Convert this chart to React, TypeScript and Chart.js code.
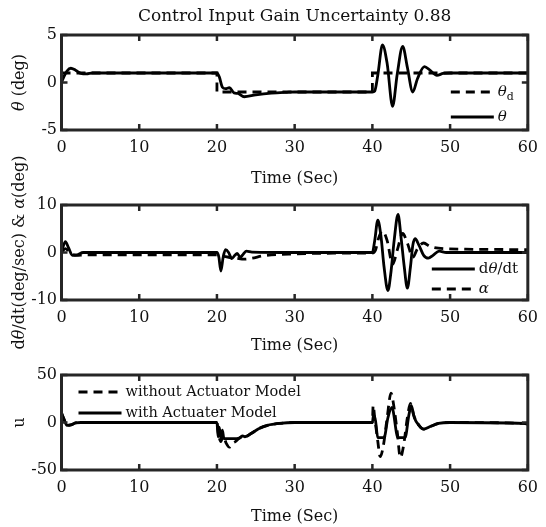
import React, { useEffect, useRef } from "react";
import { Chart, registerables } from "chart.js";

Chart.register(...registerables);

const SERIF = "'DejaVu Serif', 'Liberation Serif', serif";
const INK = "#000";
const TEXT = "#111";
const FRAME = "#262626";

// ---------- Panel 1: pitch angle ----------
const refTime = [0, 20, 20, 40, 40, 60];
const thetaRef = [1, 1, -1, -1, 1, 1];
const thetaTime = [0, 0.3, 0.7, 1.2, 1.8, 2.5, 3.2, 4, 20, 20.3, 20.7, 21.1, 21.6, 22.2, 22.7, 23.5, 25, 27, 29, 30, 35, 40, 40.3, 40.7, 41.3, 41.9, 42.6, 43.2, 43.9, 44.5, 45.2, 45.8, 46.7, 47.4, 48.3, 49.1, 50, 60];
const theta = [0, 0.6, 1.2, 1.5, 1.3, 0.95, 0.9, 1, 1, 0.6, -0.5, -0.65, -0.55, -1.1, -1.15, -1.5, -1.3, -1.12, -1.03, -1, -1, -1, -0.9, 0.8, 3.95, 2.0, -2.5, 0.9, 3.8, 1.6, -1.0, 0.4, 1.67, 1.3, 0.75, 0.95, 1, 1];

// ---------- Panel 2: pitch rate & angle of attack ----------
const rateTime = [0, 0.2, 0.5, 0.9, 1.4, 2.0, 2.8, 20, 20.25, 20.5, 20.8, 21.1, 21.5, 21.9, 22.3, 22.6, 23.0, 23.4, 23.8, 24.5, 30, 40, 40.3, 40.7, 41.1, 41.5, 42.0, 42.4, 42.8, 43.3, 43.7, 44.1, 44.5, 44.9, 45.2, 45.5, 46.0, 46.6, 47.2, 47.8, 48.6, 49.5, 60];
const rate = [0, 1.2, 2.3, 1.0, -0.6, -0.5, 0, 0, -1.0, -3.9, -1.0, 0.6, 0.0, -1.3, -0.6, -0.2, -1.0, -0.3, 0.3, 0.1, 0, 0, 2.5, 6.8, 3.5, -3.0, -8.0, -4.0, 2.5, 8.0, 3.0, -3.0, -7.5, -3.0, 1.5, 2.9, 1.5, -0.6, -1.2, -0.6, 0.3, 0, 0];
const alphaTime = [0, 0.5, 1.2, 2.0, 3, 20, 20.5, 21.5, 22.5, 23.5, 24.5, 26, 30, 35, 40, 40.4, 40.8, 41.3, 41.9, 42.6, 43.2, 43.9, 44.5, 45.2, 45.8, 46.6, 47.4, 48.5, 52, 60];
const alpha = [0, 0.8, -0.2, -0.6, -0.5, -0.5, -0.7, -1.0, -1.2, -1.4, -1.2, -0.7, -0.3, -0.15, -0.1, 0.5, 3.0, 4.5, 2.5, -2.5, 0.5, 4.0, 2.0, -1.0, 0.8, 2.0, 1.3, 0.9, 0.7, 0.6];

// ---------- Panel 3: control input ----------
const uTime = [0, 0.3, 0.7, 1.2, 1.8, 2.5, 20, 20.15, 20.3, 20.5, 20.7, 20.9, 21.5, 22.5, 23.0, 23.3, 23.6, 24.5, 25.5, 26.5, 28, 30, 40, 40.15, 40.4, 40.7, 41.5, 42.0, 42.5, 43.3, 44.2, 44.7, 45.0, 45.4, 46.0, 46.6, 47.5, 48.5, 50, 59.5, 60];
const uAct = [10, 4, -3, -2.5, -0.5, 0, 0, -15, -5, -17, -8, -17, -17, -17, -16, -14, -15, -11, -6, -3, -1, 0, 0, 8, 2, -16, -16, 5, 16, -16, -16, 8, 18, 5, -3, -7, -4, -1, 0, -1, -1.5];
const uNoActTime = [0, 0.3, 0.7, 1.2, 1.8, 2.5, 20, 20.2, 20.5, 20.8, 21.2, 21.6, 22.0, 22.4, 22.8, 23.2, 23.6, 24.5, 25.5, 26.5, 28, 30, 40, 40.1, 40.3, 40.7, 41.0, 41.4, 41.9, 42.4, 42.8, 43.2, 43.6, 44.0, 44.5, 44.9, 45.3, 46.0, 46.6, 47.5, 48.5, 50, 59.5, 60];
const uNoAct = [10, 4, -3, -2.5, -0.5, 0, 0, -12, -20, -14, -22, -26, -22, -20, -17, -15, -15, -11, -6, -3, -1, 0, 0, 18, 5, -20, -36, -25, 5, 31, 15, -10, -37, -25, 5, 20, 8, -3, -7, -4, -1, 0, -1, -1.5];

// axis ranges / ticks
const timeRange = [0, 60];
const timeStep = 10;
const xTitle = "Time (Sec)";
const chartTitle = "Control Input Gain Uncertainty 0.88";

type Seg = { s: string; it?: boolean; sub?: boolean };

const pts = (t: number[], v: number[]) => t.map((x, i) => ({ x, y: v[i] }));

function drawRich(ctx: CanvasRenderingContext2D, segs: Seg[], x: number, y: number, size: number, align: "left" | "center") {
  const fontFor = (g: Seg) => `${g.it ? "italic " : ""}${g.sub ? Math.round(size * 0.72) : size}px ${SERIF}`;
  const widths = segs.map((g) => {
    ctx.font = fontFor(g);
    return ctx.measureText(g.s).width;
  });
  const total = widths.reduce((a, b) => a + b, 0);
  let cx = align === "center" ? x - total / 2 : x;
  ctx.textBaseline = "middle";
  ctx.textAlign = "left";
  segs.forEach((g, i) => {
    ctx.font = fontFor(g);
    ctx.fillText(g.s, cx, y + (g.sub ? size * 0.32 : 0));
    cx += widths[i];
  });
}

interface LegendItem { segs: Seg[]; dash: boolean }
interface PanelCfg {
  top: number;
  height: number;
  padTop: number;
  padBottom: number;
  axisH: number;
  yMin: number;
  yMax: number;
  yStep: number;
  yTitle: Seg[];
  title?: string;
  series: { t: number[]; v: number[]; dash: boolean }[];
  legend: { items: LegendItem[]; anchor: "br" | "tl"; dx: number; rows: number[]; size: number };
}

const DASH = [9, 6];

const panels: PanelCfg[] = [
  {
    top: 0, height: 190, padTop: 0, padBottom: 2, axisH: 58,
    yMin: -5, yMax: 5, yStep: 5,
    yTitle: [{ s: "θ", it: true }, { s: " (deg)" }],
    title: chartTitle,
    series: [
      { t: thetaTime, v: theta, dash: false },
      { t: refTime, v: thetaRef, dash: true },
    ],
    legend: {
      anchor: "br", dx: 77, rows: [38, 13], size: 15,
      items: [
        { segs: [{ s: "θ", it: true }, { s: "d", sub: true }], dash: true },
        { segs: [{ s: "θ", it: true }], dash: false },
      ],
    },
  },
  {
    top: 130, height: 250, padTop: 75, padBottom: 25, axisH: 55,
    yMin: -10, yMax: 10, yStep: 10,
    yTitle: [{ s: "d" }, { s: "θ", it: true }, { s: "/dt(deg/sec) & " }, { s: "α", it: true }, { s: "(deg)" }],
    series: [
      { t: rateTime, v: rate, dash: false },
      { t: alphaTime, v: alpha, dash: true },
    ],
    legend: {
      anchor: "br", dx: 96, rows: [31, 11], size: 15,
      items: [
        { segs: [{ s: "d" }, { s: "θ", it: true }, { s: "/dt" }], dash: false },
        { segs: [{ s: "α", it: true }], dash: true },
      ],
    },
  },
  {
    top: 340, height: 187, padTop: 35, padBottom: 1, axisH: 56,
    yMin: -50, yMax: 50, yStep: 50,
    yTitle: [{ s: "u" }],
    series: [
      { t: uTime, v: uAct, dash: false },
      { t: uNoActTime, v: uNoAct, dash: true },
    ],
    legend: {
      anchor: "tl", dx: 17, rows: [17, 38], size: 14.5,
      items: [
        { segs: [{ s: "without Actuator Model" }], dash: true },
        { segs: [{ s: "with Actuater Model" }], dash: false },
      ],
    },
  },
];

function makeDecor(cfg: PanelCfg) {
  return {
    id: "decor",
    afterDatasetsDraw(chart: any) {
      const { ctx, chartArea: a, scales } = chart;
      ctx.save();
      ctx.strokeStyle = FRAME;
      ctx.lineWidth = 2.5;
      ctx.setLineDash([]);
      ctx.beginPath();
      scales.x.ticks.forEach((t: any) => {
        const px = scales.x.getPixelForValue(t.value);
        ctx.moveTo(px, a.bottom);
        ctx.lineTo(px, a.bottom - 6);
        ctx.moveTo(px, a.top);
        ctx.lineTo(px, a.top + 6);
      });
      scales.y.ticks.forEach((t: any) => {
        const py = scales.y.getPixelForValue(t.value);
        ctx.moveTo(a.left, py);
        ctx.lineTo(a.left + 6, py);
        ctx.moveTo(a.right, py);
        ctx.lineTo(a.right - 6, py);
      });
      ctx.stroke();
      ctx.lineWidth = 3;
      ctx.strokeRect(a.left, a.top, a.right - a.left, a.bottom - a.top);
      ctx.restore();
    },
    afterDraw(chart: any) {
      const { ctx, chartArea: a } = chart;
      ctx.save();
      ctx.fillStyle = TEXT;
      ctx.save();
      ctx.translate(20, (a.top + a.bottom) / 2);
      ctx.rotate(-Math.PI / 2);
      drawRich(ctx, cfg.yTitle, 0, 0, 16, "center");
      ctx.restore();
      const L = cfg.legend;
      const x0 = L.anchor === "br" ? a.right - L.dx : a.left + L.dx;
      L.items.forEach((it, i) => {
        const y = L.anchor === "br" ? a.bottom - L.rows[i] : a.top + L.rows[i];
        ctx.strokeStyle = INK;
        ctx.lineWidth = 2.8;
        ctx.setLineDash(it.dash ? DASH : []);
        ctx.beginPath();
        ctx.moveTo(x0, y);
        ctx.lineTo(x0 + 43, y);
        ctx.stroke();
        ctx.setLineDash([]);
        ctx.fillStyle = TEXT;
        drawRich(ctx, it.segs, x0 + 47, y, L.size, "left");
      });
      ctx.restore();
    },
  };
}

function Panel({ cfg }: { cfg: PanelCfg }) {
  const ref = useRef<HTMLCanvasElement | null>(null);
  useEffect(() => {
    if (!ref.current) return;
    const font = { family: SERIF, size: 16 };
    const chart = new Chart(ref.current, {
      type: "line",
      data: {
        datasets: cfg.series.map((s) => ({
          data: pts(s.t, s.v),
          borderColor: INK,
          borderWidth: 2.8,
          borderDash: s.dash ? DASH : [],
          pointRadius: 0,
          fill: false,
          tension: s.t === refTime ? 0 : 0.4,
          cubicInterpolationMode: s.t === refTime ? "default" : "monotone",
        })),
      },
      options: {
        responsive: false,
        animation: false,
        devicePixelRatio: 1,
        layout: { padding: { left: 0, right: 12, top: cfg.padTop, bottom: cfg.padBottom } },
        plugins: {
          legend: { display: false },
          tooltip: { enabled: false },
          title: cfg.title
            ? {
                display: true,
                text: cfg.title,
                fullSize: false,
                color: TEXT,
                font: { family: SERIF, size: 17, weight: "normal" },
                padding: { top: 6, bottom: 8.6 },
              }
            : { display: false },
        },
        scales: {
          x: {
            type: "linear",
            min: timeRange[0],
            max: timeRange[1],
            grid: { display: false, drawTicks: false },
            border: { display: false },
            ticks: { stepSize: timeStep, color: TEXT, font, padding: 8, maxRotation: 0, autoSkip: false },
            title: { display: true, text: xTitle, color: TEXT, font, padding: { top: 0, bottom: 0 } },
            afterFit: (s: any) => {
              s.height = cfg.axisH;
            },
          },
          y: {
            type: "linear",
            min: cfg.yMin,
            max: cfg.yMax,
            grid: { display: false, drawTicks: false },
            border: { display: false },
            ticks: { stepSize: cfg.yStep, color: TEXT, font, padding: 4.5 },
            afterFit: (s: any) => {
              s.width = 61.5;
            },
          },
        },
      } as any,
      plugins: [makeDecor(cfg)],
    });
    return () => chart.destroy();
  }, [cfg]);
  return (
    <canvas
      ref={ref}
      width={546}
      height={cfg.height}
      style={{ position: "absolute", left: 0, top: cfg.top, width: 546, height: cfg.height }}
    />
  );
}

export default function App() {
  return (
    <div style={{ position: "fixed", left: 0, top: 0, width: 546, height: 527, background: "#fff", overflow: "hidden" }}>
      {panels.map((p, i) => (
        <Panel key={i} cfg={p} />
      ))}
    </div>
  );
}
